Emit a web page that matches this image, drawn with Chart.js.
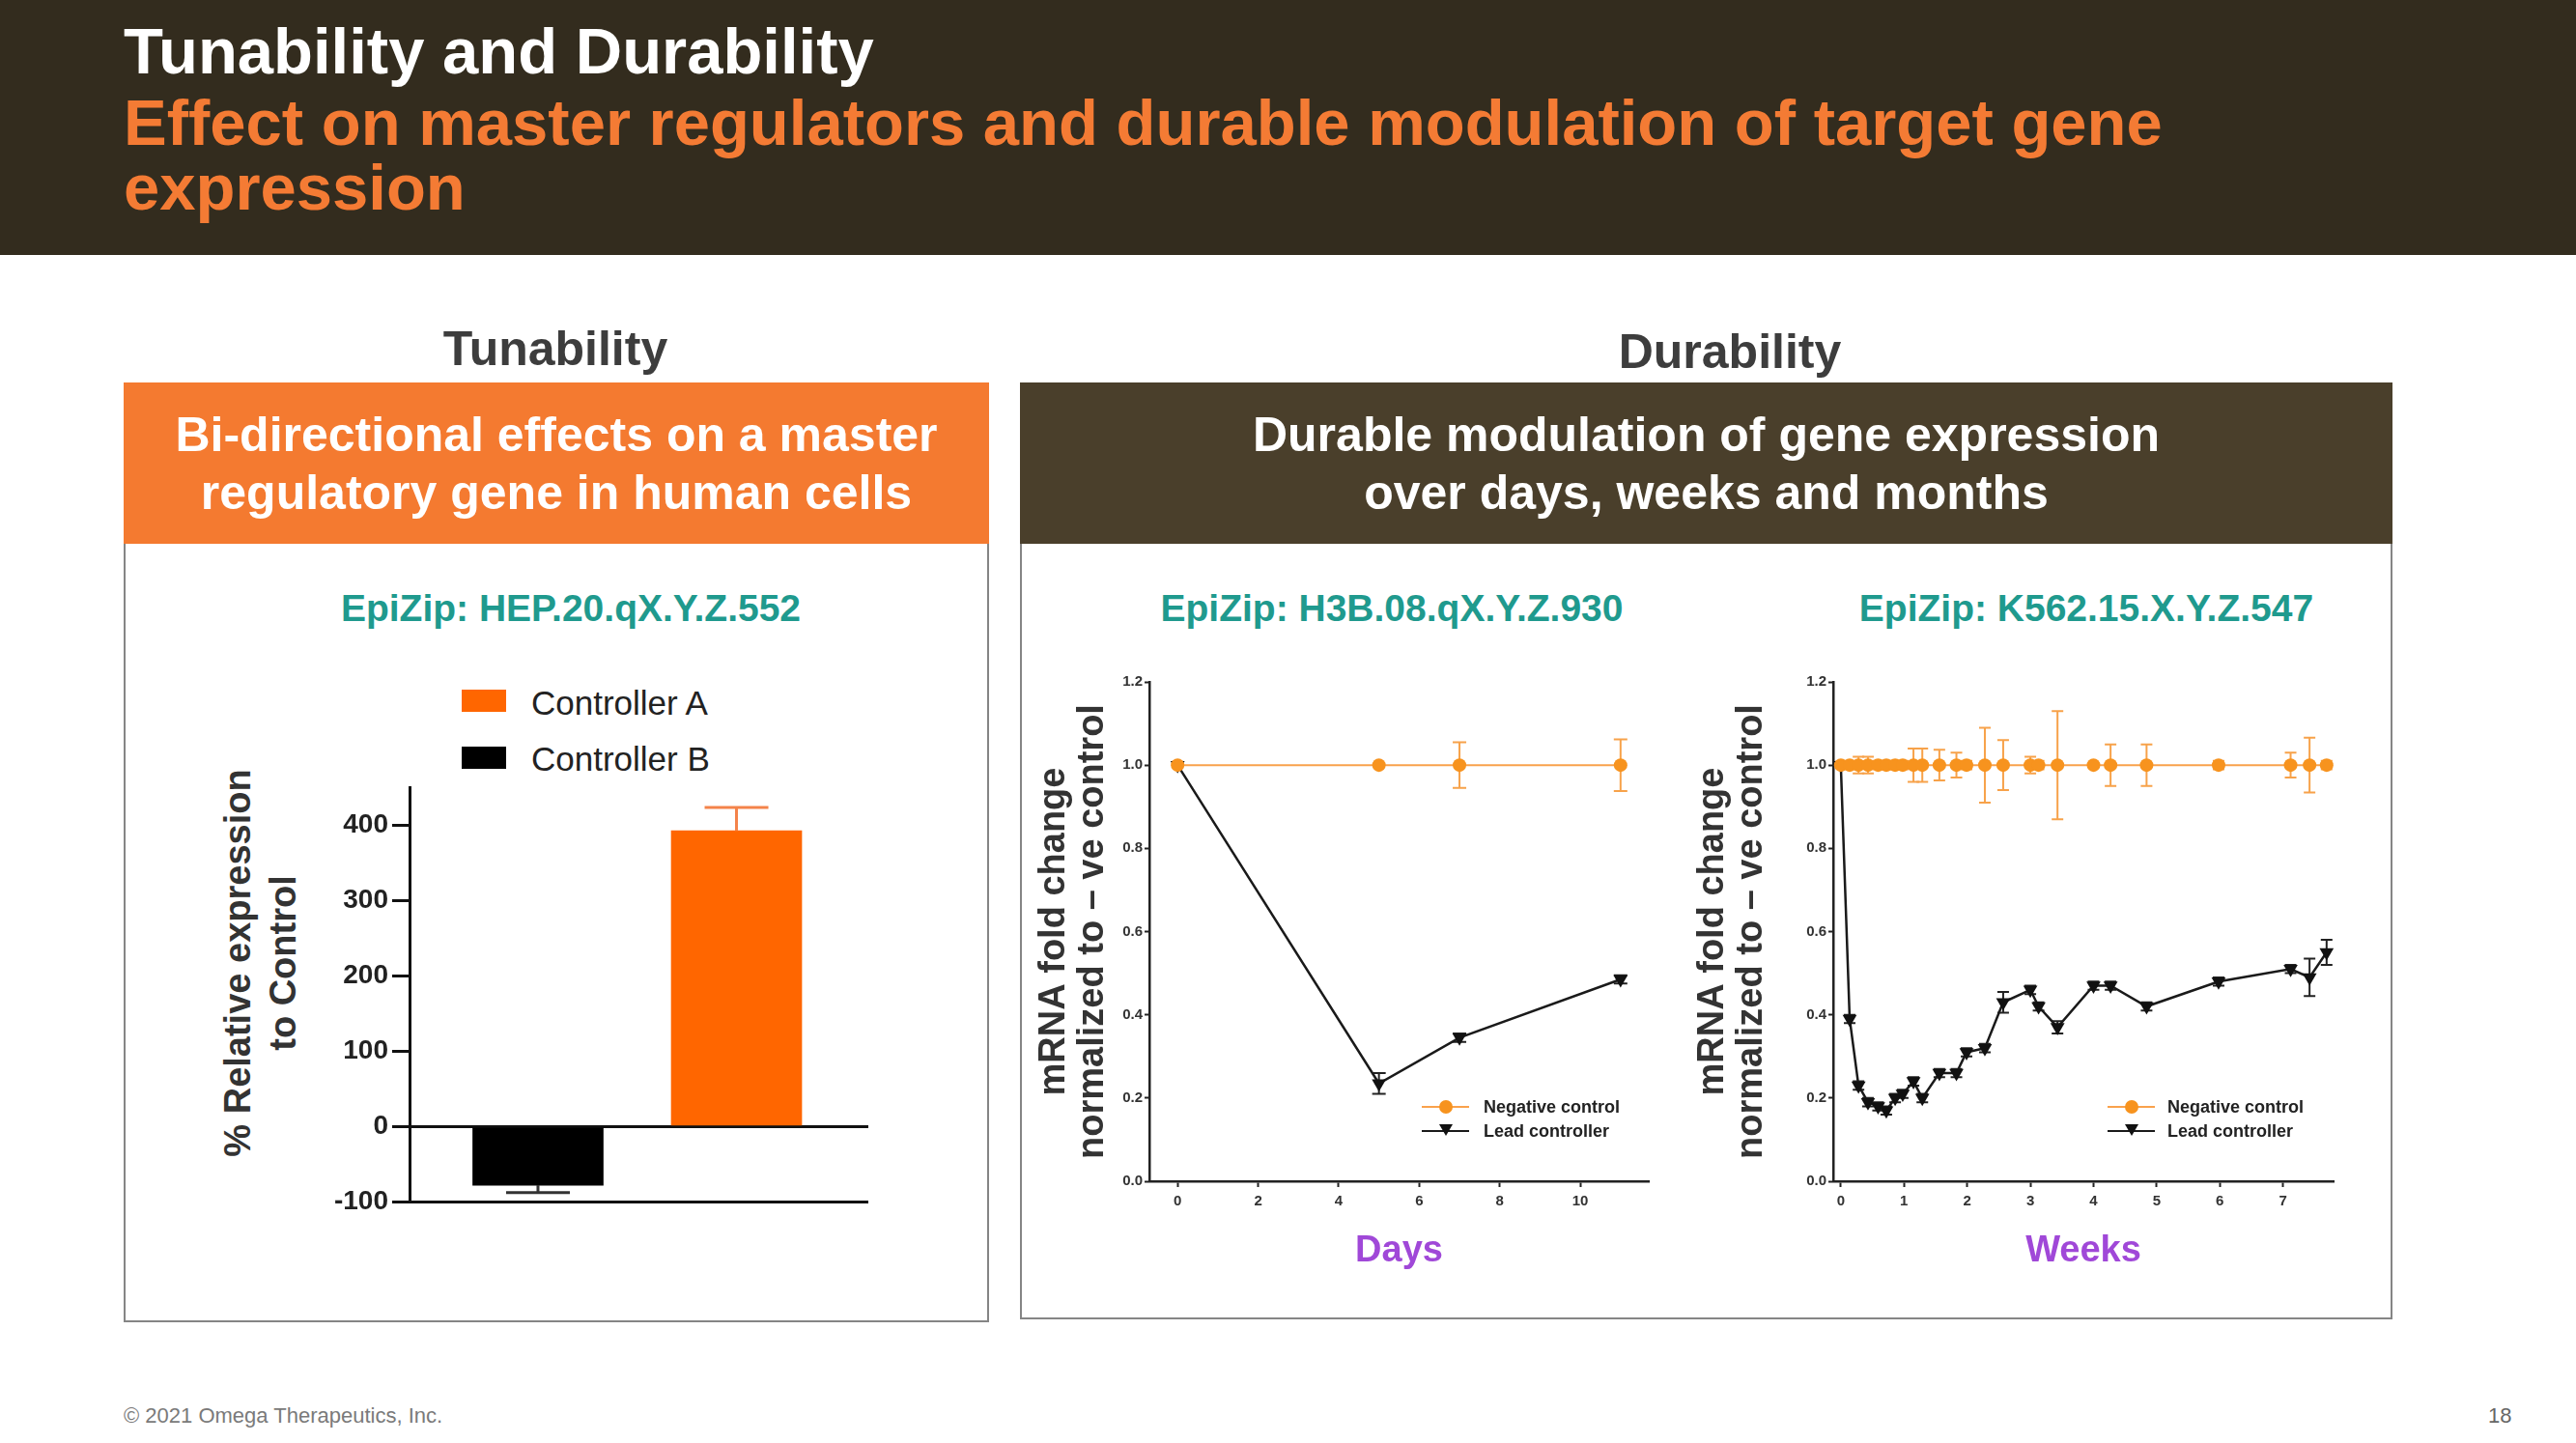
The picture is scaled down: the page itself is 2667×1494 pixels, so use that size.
<!DOCTYPE html>
<html>
<head>
<meta charset="utf-8">
<script src="https://cdn.jsdelivr.net/npm/chart.js@4.4.1/dist/chart.umd.min.js"></script>
<style>
  body { margin: 0; width: 2667px; height: 1494px; position: relative; overflow: hidden;
         background: #fff; font-family: "Liberation Sans", Arial, sans-serif; }
  .abs { position: absolute; }
  .band { left: 0; top: 0; width: 2667px; height: 264px; background: #332c1e; }
  .t1 { left: 128px; font-size: 67px; font-weight: bold; color: #fff; line-height: 67px; white-space: nowrap; }
  .t2 { left: 128px; font-size: 67px; font-weight: bold; color: #f47b34; line-height: 67px; white-space: nowrap; }
  .centered { transform: translate(-50%, -50%); white-space: nowrap; line-height: 1; }
  .section { font-size: 50px; font-weight: bold; color: #3d3d3d; }
  .panel { border: 2px solid #858585; box-sizing: border-box; }
  .phead { display: flex; align-items: center; justify-content: center; text-align: center;
           color: #fff; font-weight: bold; font-size: 50px; line-height: 60px; }
  .epizip { font-size: 39px; font-weight: bold; color: #1f9a8e; }
  .leg { font-size: 35px; color: #222; white-space: nowrap; line-height: 1; }
  .sleg { font-size: 18px; font-weight: bold; color: #222; white-space: nowrap; line-height: 1; }
  .foot { font-size: 22px; color: #7a7a7a; white-space: nowrap; line-height: 1; }
  canvas { position: absolute; }
</style>
</head>
<body>
<div class="abs band"></div>
<div class="abs t1" style="top:19px">Tunability and Durability</div>
<div class="abs t2" style="top:93px">Effect on master regulators and durable modulation of target gene</div>
<div class="abs t2" style="top:160px">expression</div>

<div class="abs centered section" style="left:575px;top:361px">Tunability</div>
<div class="abs centered section" style="left:1791px;top:364px">Durability</div>

<div class="abs panel" style="left:128px;top:396px;width:896px;height:973px"></div>
<div class="abs phead" style="left:128px;top:396px;width:896px;height:167px;background:#f47a30">Bi-directional effects on a master<br>regulatory gene in human cells</div>

<div class="abs panel" style="left:1056px;top:396px;width:1421px;height:970px"></div>
<div class="abs phead" style="left:1056px;top:396px;width:1421px;height:167px;background:#4a3f2b">Durable modulation of gene expression<br>over days, weeks and months</div>

<div class="abs centered epizip" style="left:591px;top:629px">EpiZip: HEP.20.qX.Y.Z.552</div>
<div class="abs centered epizip" style="left:1441px;top:629px">EpiZip: H3B.08.qX.Y.Z.930</div>
<div class="abs centered epizip" style="left:2160px;top:629px">EpiZip: K562.15.X.Y.Z.547</div>

<!-- bar chart legend -->
<div class="abs" style="left:478px;top:714px;width:46px;height:23px;background:#ff6600"></div>
<div class="abs leg" style="left:550px;top:710px">Controller A</div>
<div class="abs" style="left:478px;top:773px;width:46px;height:23px;background:#000"></div>
<div class="abs leg" style="left:550px;top:768px">Controller B</div>

<div class="abs centered" style="left:270px;top:997px;transform:translate(-50%,-50%) rotate(-90deg);font-size:38px;font-weight:bold;color:#333;line-height:47px;text-align:center;white-space:nowrap">% Relative expression<br>to Control</div>

<canvas id="barChart" width="560" height="470" style="left:344px;top:795px"></canvas>
<canvas id="dayChart" width="667" height="631" style="left:1060px;top:692px"></canvas>
<canvas id="weekChart" width="696" height="631" style="left:1740px;top:692px"></canvas>

<!-- small legends inside the durability plots -->
<div class="abs" style="left:1472px;top:1145px;width:49px;height:2px;background:#f9a24c"></div>
<div class="abs" style="left:1490px;top:1139px;width:14px;height:14px;border-radius:50%;background:#f7931e"></div>
<div class="abs sleg" style="left:1536px;top:1137px">Negative control</div>
<div class="abs" style="left:1472px;top:1170px;width:49px;height:2px;background:#1a1a1a"></div>
<div class="abs" style="left:1490px;top:1164px;width:0;height:0;border-left:7px solid transparent;border-right:7px solid transparent;border-top:12px solid #111"></div>
<div class="abs sleg" style="left:1536px;top:1162px">Lead controller</div>

<div class="abs" style="left:2182px;top:1145px;width:49px;height:2px;background:#f9a24c"></div>
<div class="abs" style="left:2200px;top:1139px;width:14px;height:14px;border-radius:50%;background:#f7931e"></div>
<div class="abs sleg" style="left:2244px;top:1137px">Negative control</div>
<div class="abs" style="left:2182px;top:1170px;width:49px;height:2px;background:#1a1a1a"></div>
<div class="abs" style="left:2200px;top:1164px;width:0;height:0;border-left:7px solid transparent;border-right:7px solid transparent;border-top:12px solid #111"></div>
<div class="abs sleg" style="left:2244px;top:1162px">Lead controller</div>

<div class="abs foot" style="left:128px;top:1455px">© 2021 Omega Therapeutics, Inc.</div>
<div class="abs foot" style="left:2576px;top:1455px;color:#666">18</div>

<script>
// ---- Tunability (bar chart) ----
const barCategories = ['Controller B', 'Controller A'];
const barValues = [-78, 393];
const barErrors = [10, 31];
const barTicks = [-100, 0, 100, 200, 300, 400];

// ---- Durability over days ----
const dayX = [0, 5, 7, 11];
const dayNeg = [1.0, 1.0, 1.0, 1.0];
const dayNegErr = [0, 0, 0.055, 0.062];
const dayLead = [1.0, 0.235, 0.345, 0.485];
const dayLeadErr = [0, 0.025, 0.01, 0.01];
const dayTicks = [0, 2, 4, 6, 8, 10];

// ---- Durability over weeks ----
const weekX = [0, 0.14, 0.28, 0.43, 0.59, 0.72, 0.86, 0.98, 1.15, 1.29, 1.56, 1.83, 1.99,
               2.28, 2.57, 3.0, 3.13, 3.43, 4.0, 4.27, 4.84, 5.98, 7.12, 7.42, 7.69];
const weekNeg = [1.0, 1.0, 1.0, 1.0, 1.0, 1.0, 1.0, 1.0, 1.0, 1.0, 1.0, 1.0, 1.0,
                 1.0, 1.0, 1.0, 1.0, 1.0, 1.0, 1.0, 1.0, 1.0, 1.0, 1.0, 1.0];
const weekNegErr = [0, 0.01, 0.02, 0.02, 0.01, 0.01, 0.01, 0.01, 0.04, 0.04, 0.037, 0.03, 0.01,
                    0.09, 0.06, 0.02, 0.01, 0.13, 0, 0.05, 0.05, 0.01, 0.03, 0.066, 0.01];
const weekLead = [1.0, 0.39, 0.23, 0.19, 0.18, 0.17, 0.20, 0.21, 0.24, 0.20, 0.26, 0.26, 0.31,
                  0.32, 0.43, 0.46, 0.42, 0.37, 0.47, 0.47, 0.42, 0.48, 0.51, 0.49, 0.55];
const weekLeadErr = [0, 0.01, 0.01, 0.01, 0.01, 0.01, 0.01, 0.01, 0.01, 0.01, 0.01, 0.01, 0.01,
                     0.01, 0.025, 0.01, 0.01, 0.015, 0.01, 0.01, 0.01, 0.01, 0.01, 0.045, 0.03];
const weekTicks = [0, 1, 2, 3, 4, 5, 6, 7];

const foldTicks = [0, 0.2, 0.4, 0.6, 0.8, 1.0, 1.2];

Chart.defaults.font.family = '"Liberation Sans", Arial, sans-serif';
Chart.defaults.font.weight = 'bold';
Chart.defaults.color = '#222';

// Draws SEM-style error bars from each dataset's errorBars array
function errorBars(front, cap, oneSided) {
    const draw = (chart) => {
        const ctx = chart.ctx;
        const y = chart.scales.y;
        chart.data.datasets.forEach((ds, di) => {
            if (!ds.errorBars) return;
            const meta = chart.getDatasetMeta(di);
            ctx.save();
            ctx.strokeStyle = ds.errorColor || ds.borderColor;
            ctx.lineWidth = ds.errorWidth || 2;
            meta.data.forEach((el, i) => {
                const e = ds.errorBars[i];
                if (!e) return;
                const v = ds.data[i].y;
                const sign = v < 0 ? -1 : 1;
                const hi = y.getPixelForValue(v + sign * e);
                const lo = oneSided ? y.getPixelForValue(v) : y.getPixelForValue(v - sign * e);
                ctx.beginPath();
                ctx.moveTo(el.x, lo); ctx.lineTo(el.x, hi);
                ctx.moveTo(el.x - cap, hi); ctx.lineTo(el.x + cap, hi);
                if (!oneSided) { ctx.moveTo(el.x - cap, lo); ctx.lineTo(el.x + cap, lo); }
                ctx.stroke();
            });
            ctx.restore();
        });
    };
    return {
        id: 'errorBars',
        beforeDatasetsDraw: (chart) => { if (!front) draw(chart); },
        afterDatasetsDraw: (chart) => { if (front) draw(chart); }
    };
}

const useTicks = (list) => (scale) => { scale.ticks = list.map(v => ({ value: v })); };

// ---- bar chart ----
const barColors = ['#000000', '#ff6600'];
const barErrColors = ['#333333', '#f4834a'];
new Chart(document.getElementById('barChart'), {
    type: 'bar',
    data: {
        datasets: barCategories.map((name, i) => ({
            label: name,
            data: [{ x: i, y: barValues[i] }],
            backgroundColor: barColors[i],
            errorBars: [barErrors[i]],
            errorColor: barErrColors[i],
            errorWidth: 3,
            grouped: false,
            barThickness: 135
        }))
    },
    options: {
        responsive: false,
        animation: false,
        layout: { padding: { top: 15, right: 5, bottom: 15, left: 0 } },
        scales: {
            x: { type: 'linear', min: -0.647, max: 1.664, offset: false, display: false },
            y: {
                min: -100, max: 450,
                afterBuildTicks: useTicks(barTicks),
                afterFit: (s) => { s.width = 80; },
                border: { display: true, color: '#111', width: 3 },
                grid: {
                    color: (c) => (c.tick && (c.tick.value === 0 || c.tick.value === -100)) ? '#111' : 'rgba(0,0,0,0)',
                    lineWidth: 3, tickColor: '#111', tickWidth: 3, tickLength: 18
                },
                ticks: { font: { size: 28, weight: 'bold' }, color: '#222', padding: 4 }
            }
        },
        plugins: { legend: { display: false }, tooltip: { enabled: false } }
    },
    plugins: [errorBars(true, 33, true)]
});

// ---- shared options for the two durability plots ----
function durabilityOptions(xMin, xMax, xTicks, xName, yWidth, titlePad) {
    return {
        responsive: false,
        animation: false,
        layout: { padding: { top: 14, right: 20, bottom: 0, left: 0 } },
        scales: {
            x: {
                type: 'linear', min: xMin, max: xMax,
                afterBuildTicks: useTicks(xTicks),
                afterFit: (s) => { s.height = 100; },
                border: { display: true, color: '#222', width: 2.5 },
                grid: { drawOnChartArea: false, tickLength: 6, tickColor: '#222', tickWidth: 2 },
                ticks: { font: { size: 15, weight: 'bold' }, color: '#333', padding: 6 },
                title: { display: true, text: xName, color: '#a048d8',
                         font: { size: 38, weight: 'bold', lineHeight: 1 }, padding: { top: 0, bottom: 8 } }
            },
            y: {
                min: 0, max: 1.2,
                afterBuildTicks: useTicks(foldTicks),
                afterFit: (s) => { s.width = yWidth; },
                border: { display: true, color: '#222', width: 2.5 },
                grid: { drawOnChartArea: false, tickLength: 5, tickColor: '#222', tickWidth: 2 },
                ticks: { font: { size: 15, weight: 'bold' }, color: '#333', padding: 2,
                         callback: (v) => Number(v).toFixed(1) },
                title: { display: true, text: ['mRNA fold change', 'normalized to \u2013 ve control'],
                         color: '#333', font: { size: 38, weight: 'bold', lineHeight: 1.05 },
                         padding: { top: titlePad, bottom: 0 } }
            }
        },
        plugins: { legend: { display: false }, tooltip: { enabled: false } }
    };
}

function durabilityData(xs, neg, negErr, lead, leadErr) {
    return {
        datasets: [
            {
                label: 'Negative control',
                data: xs.map((x, i) => ({ x: x, y: neg[i] })),
                errorBars: negErr,
                errorColor: '#f7a24a',
                borderColor: '#f9a24c',
                borderWidth: 2,
                pointStyle: 'circle',
                pointRadius: 7,
                pointBackgroundColor: '#f7931e',
                pointBorderColor: '#f7931e',
                pointBorderWidth: 0,
                tension: 0
            },
            {
                label: 'Lead controller',
                data: xs.map((x, i) => ({ x: x, y: lead[i] })),
                errorBars: leadErr,
                errorColor: '#222',
                borderColor: '#1a1a1a',
                borderWidth: 2.5,
                pointStyle: 'triangle',
                rotation: 180,
                pointRadius: 8.5,
                pointBackgroundColor: '#111',
                pointBorderColor: '#111',
                pointBorderWidth: 0,
                tension: 0
            }
        ]
    };
}

new Chart(document.getElementById('dayChart'), {
    type: 'line',
    data: durabilityData(dayX, dayNeg, dayNegErr, dayLead, dayLeadErr),
    options: durabilityOptions(-0.7, 11.7, dayTicks, 'Days', 130, 12),
    plugins: [errorBars(false, 7, false)]
});

new Chart(document.getElementById('weekChart'), {
    type: 'line',
    data: durabilityData(weekX, weekNeg, weekNegErr, weekLead, weekLeadErr),
    options: durabilityOptions(-0.12, 7.8, weekTicks, 'Weeks', 158, 14),
    plugins: [errorBars(false, 6, false)]
});
</script>
</body>
</html>
